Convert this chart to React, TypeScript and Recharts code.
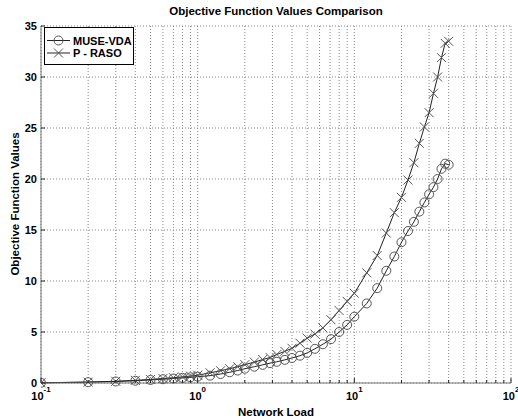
import React from 'react';
import { LineChart, Line, XAxis, YAxis, CartesianGrid } from 'recharts';

// network load values (log axis)
const loads = [
  0.1, 0.2, 0.3, 0.4, 0.5, 0.6, 0.7, 0.8, 0.9, 1.0,
  1.2, 1.4, 1.6, 1.8, 2, 2.3, 2.6, 2.9, 3.2, 3.6, 4, 4.5, 5, 5.6, 6.3, 7.1, 8, 9, 10,
  12, 14, 16, 18, 20, 22, 24, 26, 28, 30, 32, 34, 36, 38, 40,
];
const museVda = [
  0.02, 0.08, 0.15, 0.22, 0.3, 0.37, 0.44, 0.5, 0.56, 0.62,
  0.72, 0.88, 1.05, 1.22, 1.4, 1.6, 1.78, 1.95, 2.08, 2.27, 2.45, 2.68, 2.95, 3.35, 3.8, 4.3, 5.0, 5.7, 6.5,
  7.8, 9.3, 11.0, 12.4, 13.8, 14.9, 15.8, 16.8, 17.7, 18.5, 19.2, 20.0, 21.0, 21.5, 21.4,
];
const pRaso = [
  0.02, 0.09, 0.17, 0.26, 0.35, 0.44, 0.52, 0.6, 0.68, 0.76,
  1.0, 1.2, 1.4, 1.6, 1.8, 2.05, 2.3, 2.5, 2.8, 3.1, 3.4, 3.9, 4.4, 4.8, 5.4, 6.2, 7.1, 8.0, 8.8,
  10.8, 12.5, 14.7, 16.7, 18.2, 19.9, 21.6, 23.5, 25.1, 26.5, 28.4, 30.0, 31.9, 33.3, 33.5,
];

const xTicks = [
  0.1, 0.2, 0.3, 0.4, 0.5, 0.6, 0.7, 0.8, 0.9,
  1, 2, 3, 4, 5, 6, 7, 8, 9,
  10, 20, 30, 40, 50, 60, 70, 80, 90, 100,
];
const decades = [0.1, 1, 10, 100];
const decadeExponents = ['-1', '0', '1', '2'];
const yTicks = [0, 5, 10, 15, 20, 25, 30, 35];

const seriesNames = ['MUSE-VDA', 'P - RASO'];

const data = loads.map((load, i) => ({ load, muse: museVda[i], praso: pRaso[i] }));

const FONT = '"Liberation Sans", Arial, Helvetica, sans-serif';
const INK = '#222';
const MARK = '#555';

const LogTick = (props: any) => {
  const { x, y, payload } = props;
  const idx = decades.findIndex((d) => Math.abs(d - payload.value) < 1e-9);
  const major = idx >= 0;
  return (
    <g>
      <line x1={x} x2={x} y1={y} y2={y - (major ? 5 : 3)} stroke={INK} />
      {major && (
        <text x={x} y={y + 17} textAnchor="middle" fontFamily={FONT} fontSize={11} fontWeight="bold" fill="#000">
          <tspan>10</tspan>
          <tspan dy={-8} fontSize={8}>{decadeExponents[idx]}</tspan>
        </text>
      )}
    </g>
  );
};

const ValueTick = (props: any) => {
  const { x, y, payload } = props;
  return (
    <g>
      <line x1={x} x2={x + 4} y1={y} y2={y} stroke={INK} />
      <text x={x - 4} y={y + 4} textAnchor="end" fontFamily={FONT} fontSize={11} fontWeight="bold" fill="#000">
        {payload.value}
      </text>
    </g>
  );
};

const crossPath = (cx: number, cy: number, s: number) =>
  `M${cx - s},${cy - s}L${cx + s},${cy + s}M${cx - s},${cy + s}L${cx + s},${cy - s}`;

const renderCross = (props: any) => {
  const { cx, cy, index } = props;
  if (cx == null || cy == null) return <g key={`x-${index}`} />;
  return <path key={`x-${index}`} d={crossPath(cx, cy, 4.5)} stroke={MARK} strokeWidth={1} fill="none" />;
};

const LegendBox = () => (
  <svg width={90} height={38} style={{ display: 'block', position: 'absolute', left: 44, top: 27 }}>
    <rect x={0.5} y={0.5} width={89} height={37} fill="#fff" stroke="#000" />
    <line x1={3} x2={26} y1={13.5} y2={13.5} stroke={INK} />
    <circle cx={14.5} cy={13.5} r={4.5} fill="none" stroke={MARK} />
    <text x={29} y={17.5} fontFamily={FONT} fontSize={11} fontWeight="bold" fill="#000">{seriesNames[0]}</text>
    <line x1={3} x2={26} y1={26} y2={26} stroke={INK} />
    <path d={crossPath(14.5, 26, 4.5)} stroke={MARK} fill="none" />
    <text x={29} y={30} fontFamily={FONT} fontSize={11} fontWeight="bold" fill="#000">{seriesNames[1]}</text>
  </svg>
);

export default function App() {
  return (
    <div style={{ position: 'absolute', left: 0, top: 0, width: 518, height: 420, background: '#fff' }}>
      <LineChart width={518} height={420} data={data} margin={{ top: 26, right: 7, bottom: 7, left: 10 }}>
        <CartesianGrid stroke="#888" strokeDasharray="1 2" />
        <XAxis
          dataKey="load"
          type="number"
          scale="log"
          domain={[0.1, 100]}
          allowDataOverflow
          ticks={xTicks}
          interval={0}
          height={30}
          tickSize={0}
          tickMargin={0}
          tick={<LogTick />}
          stroke="#777"
        />
        <YAxis
          type="number"
          domain={[0, 35]}
          ticks={yTicks}
          interval={0}
          width={31}
          tickSize={0}
          tickMargin={0}
          tick={<ValueTick />}
          stroke="#777"
        />
        <Line
          dataKey="muse"
          name={seriesNames[0]}
          stroke={INK}
          strokeWidth={1}
          dot={{ r: 4.5, stroke: MARK, fill: 'none', strokeWidth: 1 }}
          isAnimationActive={false}
        />
        <Line
          dataKey="praso"
          name={seriesNames[1]}
          stroke={INK}
          strokeWidth={1}
          dot={renderCross}
          isAnimationActive={false}
        />
        <text x={276} y={15} textAnchor="middle" fontFamily={FONT} fontSize={11.5} fontWeight="bold" fill="#000">
          Objective Function Values Comparison
        </text>
        <text x={276} y={416} textAnchor="middle" fontFamily={FONT} fontSize={11.5} fontWeight="bold" fill="#000">
          Network Load
        </text>
        <text
          x={19}
          y={204}
          transform="rotate(-90 19 204)"
          textAnchor="middle"
          fontFamily={FONT}
          fontSize={11.5}
          fontWeight="bold"
          fill="#000"
        >
          Objective Function Values
        </text>
      </LineChart>
      <LegendBox />
    </div>
  );
}
